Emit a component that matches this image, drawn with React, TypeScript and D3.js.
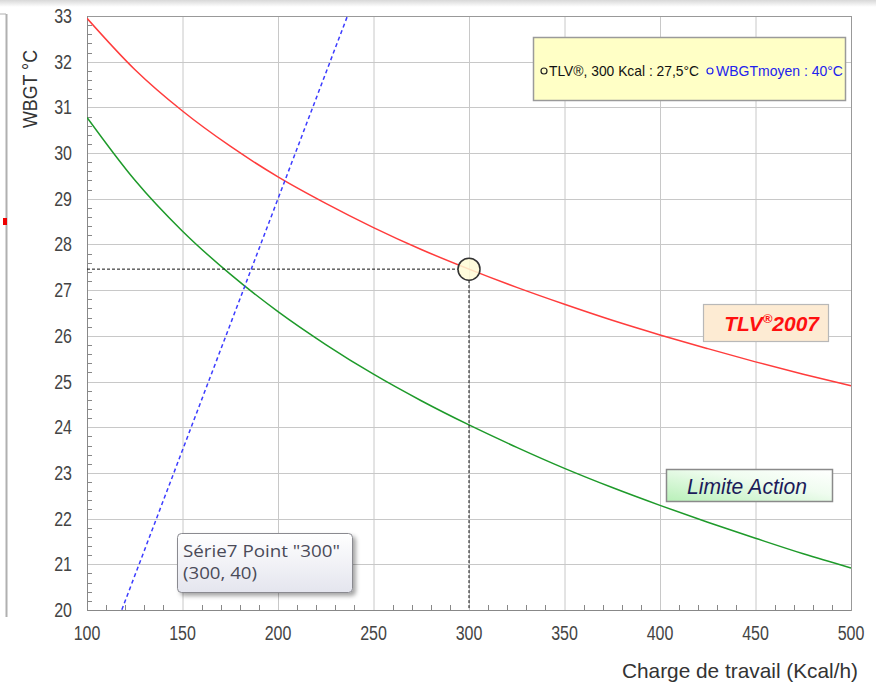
import React from "react";
import * as d3 from "d3";

const loads = [100, 125, 150, 175, 200, 225, 250, 275, 300, 325, 350, 375, 400, 425, 450, 475, 500];
const tlv = [32.95, 31.83, 30.92, 30.15, 29.48, 28.9, 28.37, 27.89, 27.46, 27.06, 26.69, 26.34, 26.02, 25.72, 25.43, 25.16, 24.91];
const actionLimit = [30.78, 29.41, 28.29, 27.35, 26.53, 25.81, 25.16, 24.58, 24.05, 23.56, 23.1, 22.68, 22.29, 21.92, 21.57, 21.23, 20.92];
const wbgtLoads = [100, 300];
const wbgtValues = [18, 40];
const pointLoad = 300;
const pointValue = 27.46;
const xTicks = [100, 150, 200, 250, 300, 350, 400, 450, 500];
const yTicks = [20, 21, 22, 23, 24, 25, 26, 27, 28, 29, 30, 31, 32, 33];
const legendTexts = ["TLV®, 300 Kcal : 27,5°C", "WBGTmoyen : 40°C"];

const W = 876;
const H = 682;
const L = 87, R = 851, T = 16, B = 610;

export default function App() {
  const x = d3.scaleLinear().domain([100, 500]).range([L, R]);
  const y = d3.scaleLinear().domain([20, 33]).range([B, T]);
  const line = d3
    .line<number>()
    .x((_, i) => x(loads[i]))
    .y((d) => y(d))
    .curve(d3.curveMonotoneX);
  const wline = d3
    .line<number>()
    .x((_, i) => x(wbgtLoads[i]))
    .y((d) => y(d));
  const xMinor = d3.range(100, 501, 10).filter((v) => v % 50 !== 0);
  const yMinor = d3.range(0, 66).map((i) => 20 + i * 0.2).filter((v) => Math.abs(v - Math.round(v)) > 0.01);
  const tickFont = "'Liberation Sans', Arial, sans-serif";
  const px = x(pointLoad);
  const py = y(pointValue);
  return (
    <svg
      width={W}
      height={H}
      style={{ position: "absolute", left: 0, top: 0, background: "#fff" }}
      xmlns="http://www.w3.org/2000/svg"
    >
      <defs>
        <clipPath id="plot">
          <rect x={L} y={T} width={R - L} height={B - T} />
        </clipPath>
        <linearGradient id="topg" x1="0" y1="0" x2="0" y2="1">
          <stop offset="0" stopColor="#d8d8d8" />
          <stop offset="1" stopColor="#ffffff" />
        </linearGradient>
        <linearGradient id="greeng" x1="0" y1="1" x2="1" y2="0">
          <stop offset="0" stopColor="#b8f0b8" />
          <stop offset="0.6" stopColor="#effcef" />
          <stop offset="1" stopColor="#ffffff" />
        </linearGradient>
        <linearGradient id="tipg" x1="0" y1="0" x2="0" y2="1">
          <stop offset="0" stopColor="#ffffff" />
          <stop offset="1" stopColor="#e4e5ee" />
        </linearGradient>
        <filter id="shadow" x="-10%" y="-10%" width="130%" height="140%">
          <feDropShadow dx="3" dy="3" stdDeviation="2" floodColor="#000" floodOpacity="0.35" />
        </filter>
      </defs>
      <rect x={0} y={0} width={W} height={7} fill="url(#topg)" />
      <line x1={6.5} y1={14} x2={6.5} y2={617} stroke="#b0b0b0" strokeWidth={2} />
      <line x1={0} y1={14} x2={6} y2={14} stroke="#b0b0b0" />
      <rect x={3} y={218} width={4} height={7} fill="#e00" />

      {/* grid */}
      <g stroke="#c8c8c8" strokeWidth={1}>
        {xTicks.slice(1, -1).map((t) => (
          <line key={"gx" + t} x1={x(t) + 0.5} x2={x(t) + 0.5} y1={T} y2={B} />
        ))}
        {yTicks.slice(1, -1).map((t) => (
          <line key={"gy" + t} x1={L} x2={R} y1={Math.round(y(t)) + 0.5} y2={Math.round(y(t)) + 0.5} />
        ))}
      </g>
      {/* minor ticks */}
      <g stroke="#888" strokeWidth={1}>
        {xMinor.map((t) => (
          <line key={"mx" + t} x1={Math.round(x(t)) + 0.5} x2={Math.round(x(t)) + 0.5} y1={B} y2={B - 5} />
        ))}
        {yMinor.map((t, i) => (
          <line key={"my" + i} x1={L} x2={L + 5} y1={Math.round(y(t)) + 0.5} y2={Math.round(y(t)) + 0.5} />
        ))}
      </g>
      <rect x={L + 0.5} y={T + 0.5} width={R - L} height={B - T} fill="none" stroke="#999" strokeWidth={1} />
      <line x1={L + 0.5} x2={L + 0.5} y1={T} y2={B} stroke="#888" />
      <line x1={L} x2={R} y1={B + 0.5} y2={B + 0.5} stroke="#888" />

      {/* curves */}
      <g clipPath="url(#plot)">
        <path d={line(tlv) || ""} fill="none" stroke="#ff3c3c" strokeWidth={1.5} />
        <path d={line(actionLimit) || ""} fill="none" stroke="#1e9a2a" strokeWidth={1.5} />
        <path d={wline(wbgtValues) || ""} fill="none" stroke="#3c3cff" strokeWidth={1.5} strokeDasharray="4,3" />
        <line x1={L} x2={px - 11} y1={py} y2={py} stroke="#111" strokeDasharray="3,2" />
        <line x1={px} x2={px} y1={py + 11} y2={B} stroke="#111" strokeDasharray="3,2" />
      </g>
      <circle cx={px} cy={py} r={11} fill="#fffbd6" fillOpacity={0.85} stroke="#333" strokeWidth={1.5} />

      {/* tick labels */}
      <g fontFamily={tickFont} fontSize={20} fill="#444">
        {yTicks.map((t) => (
          <text key={"yl" + t} transform={`translate(72, ${y(t)}) scale(0.8, 1)`} dy="0.35em" textAnchor="end">
            {t}
          </text>
        ))}
        {xTicks.map((t) => (
          <text key={"xl" + t} transform={`translate(${x(t)}, 640) scale(0.8, 1)`} textAnchor="middle">
            {t}
          </text>
        ))}
      </g>
      <text
        transform={`translate(37, 89) rotate(-90) scale(0.85, 1)`}
        textAnchor="middle"
        fontFamily="'Liberation Sans', Arial, sans-serif"
        fontSize={21}
        fill="#333"
      >
        WBGT °C
      </text>
      <text x={858} y={678} textAnchor="end" fontFamily="'Liberation Sans', Arial, sans-serif" fontSize={21} fill="#333" textLength={236} lengthAdjust="spacingAndGlyphs">
        Charge de travail  (Kcal/h)
      </text>

      {/* legend */}
      <rect x={533.5} y={37.5} width={312} height={63} fill="#ffffc6" stroke="#9a9a9a" strokeWidth={1.5} />
      <circle cx={544} cy={71} r={3} fill="none" stroke="#222" strokeWidth={1.2} />
      <text x={549} y={76} fontFamily={tickFont} fontSize={15} fill="#111" textLength={150} lengthAdjust="spacingAndGlyphs">
        {legendTexts[0]}
      </text>
      <circle cx={710} cy={71} r={3} fill="none" stroke="#2222ee" strokeWidth={1.2} />
      <text x={716} y={76} fontFamily={tickFont} fontSize={15} fill="#2222ee" textLength={127} lengthAdjust="spacingAndGlyphs">
        {legendTexts[1]}
      </text>

      {/* TLV label */}
      <rect x={703.5} y={304.5} width={125} height={37} fill="#fdebd3" stroke="#b8b8b8" strokeWidth={1.2} />
      <text x={819} y={331} textAnchor="end" fontFamily="'Liberation Sans', Arial, sans-serif" fontSize={21} fontWeight="bold" fontStyle="italic" fill="#ff1010">
        TLV
        <tspan fontSize={13} dy={-8}>®</tspan>
        <tspan dy={8}>2007</tspan>
      </text>

      {/* Limite Action label */}
      <rect x={666.5} y={469.5} width={166} height={32} fill="url(#greeng)" stroke="#8a8a8a" strokeWidth={1.5} />
      <text x={687} y={494} fontFamily="'Liberation Sans', Arial, sans-serif" fontSize={22} fontStyle="italic" fill="#1c1c5a" textLength={120} lengthAdjust="spacingAndGlyphs">
        Limite Action
      </text>

      {/* tooltip */}
      <rect x={177.5} y={533.5} width={175} height={59} rx={4} fill="url(#tipg)" stroke="#8a8a90" strokeWidth={1} filter="url(#shadow)" />
      <text x={183} y={557} fontFamily="'Open Sans', 'Noto Sans', sans-serif" fontSize={17} fill="#4a4a58" textLength={157} lengthAdjust="spacingAndGlyphs">
        Série7 Point "300"
      </text>
      <text x={183} y={579} fontFamily="'Open Sans', 'Noto Sans', sans-serif" fontSize={17} fill="#4a4a58" textLength={74} lengthAdjust="spacingAndGlyphs">
        (300, 40)
      </text>
    </svg>
  );
}
